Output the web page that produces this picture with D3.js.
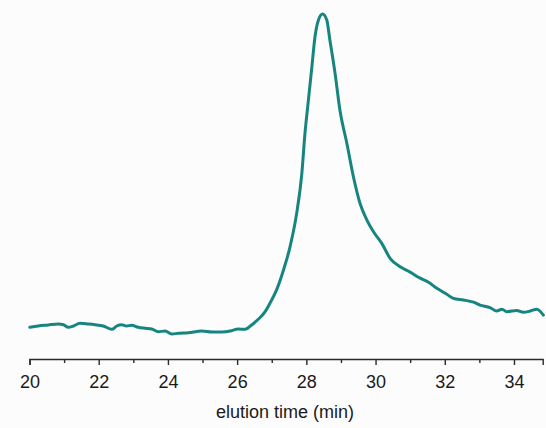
<!DOCTYPE html>
<html>
<head>
<meta charset="utf-8">
<script src="https://cdn.jsdelivr.net/npm/d3@7"></script>
<style>
  body { margin: 0; background: #fcfcfc; }
  svg { display: block; font-family: "Liberation Sans", Arial, sans-serif; }
</style>
</head>
<body>
<div id="chart"></div>
<script>
// elution time (min) and detector signal (arbitrary units, peak = 100)
var times = [
  20.01, 20.25, 20.54, 20.83, 20.98, 21.12, 21.27, 21.46, 21.70, 21.89,
  22.13, 22.38, 22.52, 22.66, 22.81, 22.95, 23.14, 23.34, 23.53, 23.72,
  23.92, 24.11, 24.30, 24.59, 24.98, 25.27, 25.55, 25.84, 26.03, 26.23,
  26.42, 26.61, 26.81, 26.95, 27.14, 27.34, 27.53, 27.72, 27.87, 27.96,
  28.06, 28.16, 28.25, 28.35, 28.47, 28.59, 28.68, 28.83, 28.97, 29.17,
  29.36, 29.55, 29.75, 29.94, 30.18, 30.42, 30.71, 31.00, 31.29, 31.53,
  31.77, 32.06, 32.25, 32.54, 32.83, 33.02, 33.31, 33.50, 33.65, 33.79,
  34.08, 34.27, 34.47, 34.66, 34.85
];
var signal = [
  0.85, 1.27, 1.58, 1.90, 1.68, 0.85, 1.27, 2.12, 1.90, 1.68,
  1.27, 0.22, 1.27, 1.68, 1.27, 1.49, 0.85, 0.54, 0.32, -0.54,
  -0.32, -1.27, -1.04, -0.85, -0.32, -0.63, -0.63, -0.22, 0.32, 0.22,
  1.58, 3.39, 5.79, 8.5, 12.7, 19.0, 26.4, 36.9, 49.6, 62.2,
  72.8, 83.3, 92.8, 98.1, 100, 98.1, 91.8, 81.2, 69.6, 59.1,
  48.5, 40.1, 34.8, 31.1, 27.4, 22.7, 20.0, 18.3, 16.4, 15.1,
  13.2, 11.3, 10.0, 9.5, 8.8, 7.9, 7.1, 6.0, 6.6, 5.8,
  6.2, 5.6, 6.0, 6.6, 4.7
];
var tickValues = d3.range(20, 35);
var xLabel = 'elution time (min)';

var width = 546, height = 428;

var svg = d3.select('#chart').append('svg')
    .attr('width', width)
    .attr('height', height);

svg.append('rect')
    .attr('width', width)
    .attr('height', height)
    .attr('fill', '#fcfcfc');

var x = d3.scaleLinear()
    .domain([20, 34.83])
    .range([29.5, 542.7]);

var y = d3.scaleLinear()
    .domain([0, 100])
    .range([330, 14]);

var data = times.map(function(t, i) { return { t: t, v: signal[i] }; });

// x axis: labelled even minutes, short ticks on odd ones
var axis = d3.axisBottom(x)
    .tickValues(tickValues)
    .tickSizeInner(6)
    .tickSizeOuter(6)
    .tickPadding(10)
    .tickFormat(function(d) { return d % 2 === 0 ? d : ''; });

var gx = svg.append('g')
    .attr('transform', 'translate(0,359)')
    .call(axis);

gx.select('.domain')
    .attr('stroke', '#2a2a2a')
    .attr('stroke-width', 1.4);

gx.selectAll('.tick line')
    .attr('stroke', '#2a2a2a')
    .attr('stroke-width', 1.4)
    .attr('y2', function(d) { return d % 2 === 0 ? 6 : 4; });

gx.selectAll('.tick text')
    .attr('fill', '#1a1a1a')
    .style('font-size', '18px')
    .style('font-family', '"Liberation Sans", Arial, sans-serif');

svg.append('text')
    .attr('x', 285)
    .attr('y', 418)
    .attr('text-anchor', 'middle')
    .attr('fill', '#1a1a1a')
    .style('font-size', '18px')
    .text(xLabel);

var line = d3.line()
    .x(function(d) { return x(d.t); })
    .y(function(d) { return y(d.v); })
    .curve(d3.curveMonotoneX);

svg.append('path')
    .datum(data)
    .attr('d', line)
    .attr('fill', 'none')
    .attr('stroke', '#17857f')
    .attr('stroke-width', 3)
    .attr('stroke-linejoin', 'round')
    .attr('stroke-linecap', 'round');
</script>
</body>
</html>
